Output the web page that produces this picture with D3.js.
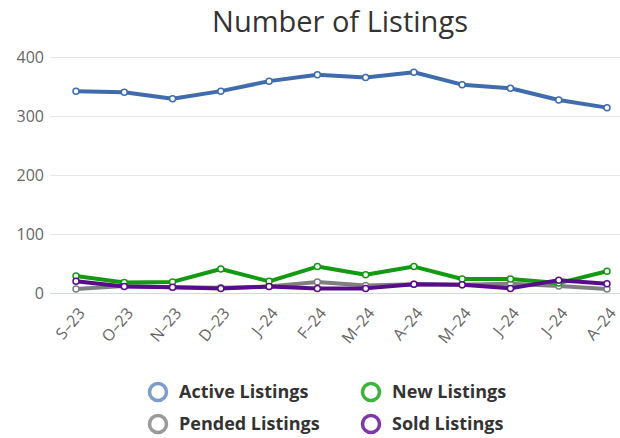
<!DOCTYPE html>
<html lang="en-US">
<head>
    <meta charset="utf-8">
    <script src="https://d3js.org/d3.v7.min.js"></script>
    <style>
        body { margin: 0; background: #fff; }
        text { font-family: "Open Sans", "DejaVu Sans", sans-serif; }
        .axis path, .axis line { display: none; }
        .axis text { fill: #666; font-size: 16px; }
    </style>
</head>
<body>
<div id="canvas"></div>
</body>
<script>
    var months = ["S–23", "O–23", "N–23", "D–23", "J–24", "F–24", "M–24", "A–24", "M–24", "J–24", "J–24", "A–24"];
    var yTicks = [0, 100, 200, 300, 400];

    var active = [342, 340, 329, 342, 359, 370, 365, 374, 353, 347, 327, 314];
    var newL   = [28, 17, 18, 40, 19, 44, 30, 44, 23, 23, 16, 36];
    var pended = [6, 11, 9, 8, 10, 18, 12, 14, 13, 15, 11, 6];
    var sold   = [19, 10, 9, 7, 10, 7, 7, 14, 13, 7, 21, 15];

    var series = [
        { name: "Active Listings", values: active, color: "#3f6cad", legend: "#7b9dcc" },
        { name: "Pended Listings", values: pended, color: "#7f7f7f", legend: "#999999" },
        { name: "New Listings", values: newL, color: "#129a12", legend: "#3cb43c" },
        { name: "Sold Listings", values: sold, color: "#580c8c", legend: "#7d3aa6" }
    ];

    var svg = d3.select("#canvas")
        .append("svg")
        .attr("width", 620)
        .attr("height", 438);

    var x = d3.scalePoint().domain(d3.range(months.length)).range([76, 607]);
    var y = d3.scaleLinear().domain([0, 400]).range([292.5, 57]);

    svg.append("text")
        .attr("x", 340)
        .attr("y", 32)
        .attr("text-anchor", "middle")
        .style("font-size", "29px")
        .style("fill", "#333")
        .text("Number of Listings");

    // gridlines
    svg.append("g")
        .selectAll("line")
        .data(yTicks)
        .enter().append("line")
        .attr("x1", 50)
        .attr("x2", 620)
        .attr("y1", function(d) { return Math.round(y(d)) + 0.5; })
        .attr("y2", function(d) { return Math.round(y(d)) + 0.5; })
        .style("stroke", function(d) { return d === 0 ? "#d0d8e8" : "#e6e6e6"; });

    svg.append("g")
        .attr("class", "axis")
        .attr("transform", "translate(44,0)")
        .call(d3.axisLeft(y).tickValues(yTicks).tickSize(0).tickPadding(0))
        .selectAll("text")
        .attr("dy", "0.35em");

    var xAxis = svg.append("g")
        .attr("class", "axis")
        .attr("transform", "translate(0,300)")
        .call(d3.axisBottom(x).tickSize(0).tickPadding(0).tickFormat(function(i) { return months[i]; }));

    xAxis.selectAll("text")
        .attr("text-anchor", "end")
        .attr("dy", "0.35em")
        .attr("transform", "translate(5,10) rotate(-50)");

    var line = d3.line()
        .x(function(d, i) { return x(i); })
        .y(function(d) { return y(d); });

    series.forEach(function(s) {
        svg.append("path")
            .datum(s.values)
            .attr("d", line)
            .attr("fill", "none")
            .attr("stroke", s.color)
            .attr("stroke-width", 4)
            .attr("stroke-linejoin", "round");

        svg.append("g")
            .selectAll("circle")
            .data(s.values)
            .enter().append("circle")
            .attr("cx", function(d, i) { return x(i); })
            .attr("cy", function(d) { return y(d); })
            .attr("r", 3)
            .attr("fill", "#fff")
            .attr("stroke", s.color)
            .attr("stroke-width", 1.5);
    });

    // legend
    var legendPos = [
        { x: 158, y: 392 },
        { x: 158, y: 424 },
        { x: 371, y: 392 },
        { x: 371, y: 424 }
    ];

    var legend = svg.append("g")
        .selectAll("g")
        .data(series)
        .enter().append("g")
        .attr("transform", function(d, i) { return "translate(" + legendPos[i].x + "," + legendPos[i].y + ")"; });

    legend.append("circle")
        .attr("r", 8.5)
        .attr("fill", "#fff")
        .attr("stroke", function(d) { return d.legend; })
        .attr("stroke-width", 3.5);

    legend.append("text")
        .attr("x", 21)
        .attr("dy", "0.35em")
        .style("font-size", "18px")
        .style("font-weight", "bold")
        .style("fill", "#333")
        .text(function(d) { return d.name; });
</script>
</html>
